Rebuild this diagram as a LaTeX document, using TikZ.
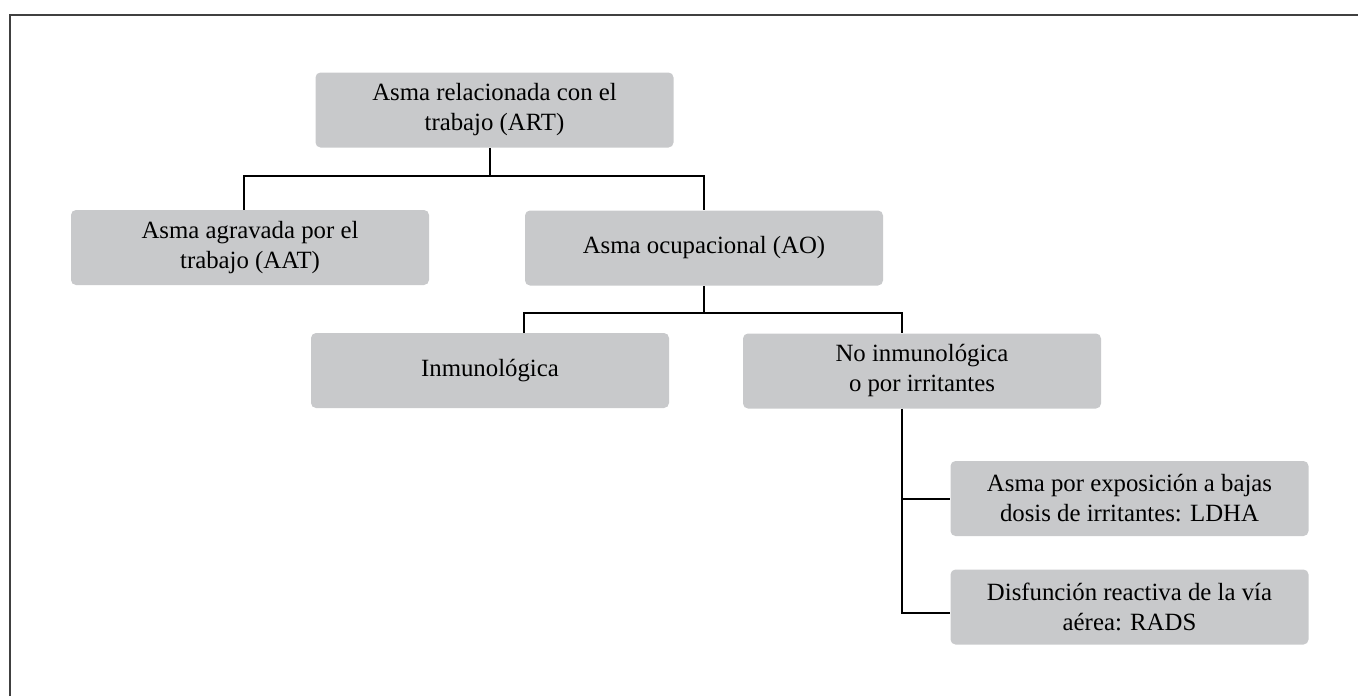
\documentclass[tikz,border=0pt]{standalone}
\usepackage{fontspec}
\setmainfont{Liberation Serif}
\usepackage{tikz}
\usetikzlibrary{calc}

\definecolor{boxgray}{RGB}{200,201,203}

\tikzset{
	box/.style={fill=boxgray, rounded corners=2.5pt, minimum width=179pt, minimum height=37.5pt, inner sep=0pt, align=center, font=\fontsize{12.4}{15}\selectfont},
	link/.style={draw=black, line width=1pt},
	frame/.style={draw=black!75, line width=1pt}
}

\begin{document}
\begin{tikzpicture}[x=0.5pt,y=-0.5pt]
		\useasboundingbox (0,0) rectangle (1358,696);
		
		%frame
		\draw[frame] (10,696) -- (10,14.5) -- (1358,14.5);
		
		%boxes
		\node[box] (art) at (494.5,110) {Asma relacionada con el\\trabajo (ART)};
		\node[box] (aat) at (250,247.5) {Asma agravada por el\\trabajo (AAT)};
		\node[box] (ao) at (704,248) {Asma ocupacional (AO)};
		\node[box] (inm) at (490,370.5) {Inmunológica};
		\node[box] (noinm) at (922,371) {No inmunológica\\o por irritantes};
		\node[box] (ldha) at (1129.5,498.5) {Asma por exposición a bajas\\dosis de irritantes: LDHA};
		\node[box] (rads) at (1129.5,607) {Disfunción reactiva de la vía\\aérea: RADS};
		
		%first level
		\draw[link] ($(art.south)+(-5,0)$) -- ++(0,28) coordinate (j1);
		\draw[link] (j1) -| ($(aat.north)+(-6,0)$);
		\draw[link] (j1) -| (ao.north);
		
		%second level
		\draw[link] (ao.south) -- ++(0,27) coordinate (j2);
		\draw[link] (j2) -| ($(inm.north)+(34,0)$);
		\draw[link] (j2) -| ($(noinm.north)+(-20,0)$);
		
		%irritants
		\draw[link] ($(noinm.south)+(-20,0)$) |- ($(rads.west)+(0,6)$);
		\draw[link] ($(noinm.south)+(-20,0)$) |- (ldha.west);
		
\end{tikzpicture}
\end{document}
